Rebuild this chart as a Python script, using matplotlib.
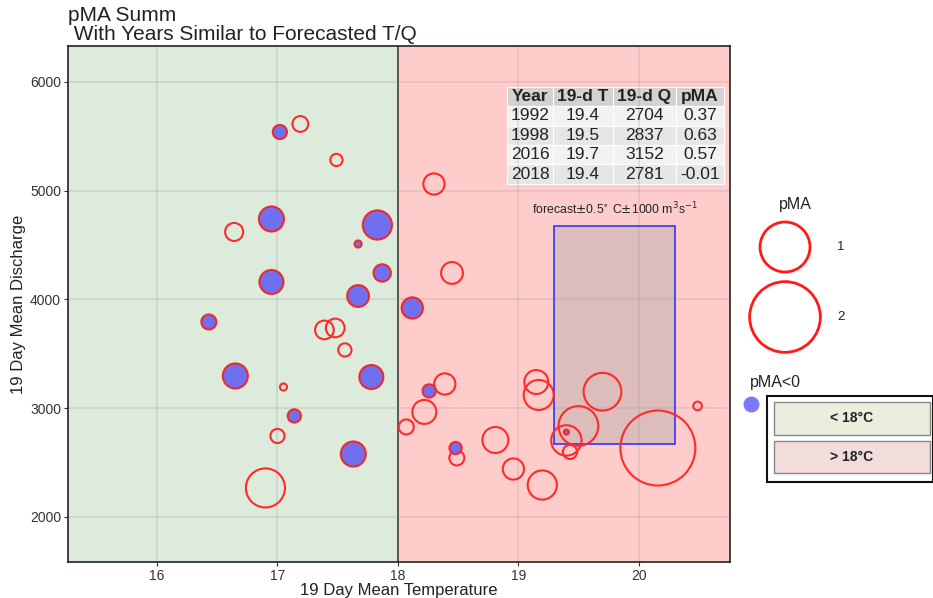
import numpy as np
import matplotlib.pyplot as plt
from matplotlib.patches import Rectangle

plt.rcParams['font.family'] = ['Liberation Sans', 'DejaVu Sans']

# 19-day mean temperature, 19-day mean discharge, pMA for each year
temp = [17.02, 17.19, 17.49, 16.95, 16.64, 17.83, 17.67, 17.87, 16.95, 17.67,
        16.43, 17.39, 17.48, 17.56, 16.65, 17.05, 17.78, 17.14, 17.00, 17.63,
        16.90,
        18.30, 18.45, 18.12, 18.39, 18.26, 18.22, 18.07, 18.48, 18.49, 18.81,
        18.96, 19.20, 19.15, 19.17, 19.7, 19.5, 19.4, 19.4, 19.43, 20.16, 20.49]
disch = [5540, 5614, 5283, 4740, 4621, 4685, 4510, 4244, 4161, 4032,
         3793, 3720, 3738, 3536, 3297, 3195, 3287, 2929, 2745, 2579,
         2267,
         5062, 4244, 3922, 3223, 3159, 2966, 2828, 2634, 2543, 2708,
         2441, 2294, 3241, 3122, 3152, 2837, 2704, 2781, 2598, 2634, 3021]
pma = [-0.08, 0.10, 0.06, -0.25, 0.13, -0.34, -0.02, -0.12, -0.23, -0.19,
       -0.09, 0.14, 0.14, 0.07, -0.25, 0.02, -0.23, -0.07, 0.08, -0.25,
       0.61,
       0.18, 0.19, -0.18, 0.18, -0.07, 0.23, 0.09, -0.06, 0.09, 0.27,
       0.18, 0.34, 0.23, 0.36, 0.57, 0.63, 0.37, -0.01, 0.08, 2.25, 0.03]

# years similar to the forecast
tab_cols = ['Year', '19-d T', '19-d Q', 'pMA']
tab_rows = [['1992', '19.4', '2704', '0.37'],
            ['1998', '19.5', '2837', '0.63'],
            ['2016', '19.7', '3152', '0.57'],
            ['2018', '19.4', '2781', '-0.01']]

forecast_t = 19.8
forecast_q = 3675
dt = 0.5
dq = 1000

legend_sizes = [1, 2]

temp = np.array(temp)
disch = np.array(disch)
pma = np.array(pma)
size_k = 1296  # points^2 per unit |pMA|

fig = plt.figure(figsize=(9.33, 5.98), dpi=100)
ax = fig.add_axes([0.0729, 0.0602, 0.7096, 0.8629])

x0, x1 = 15.26, 20.76
y0, y1 = 1586, 6331
ax.axvspan(x0, 18, color='#dcebdc', zorder=0)
ax.axvspan(18, x1, color='#ffcccc', zorder=0)
ax.axvline(18, color='#333333', lw=1.2, zorder=1)
ax.set_xlim(x0, x1)
ax.set_ylim(y0, y1)
ax.set_xticks([16, 17, 18, 19, 20])
ax.set_yticks([2000, 3000, 4000, 5000, 6000])
ax.grid(True, color='#888888', alpha=0.22, lw=1.2, zorder=1)
ax.tick_params(labelsize=10, colors='#333333', length=3, pad=2)
for s in ax.spines.values():
    s.set_color('#222222')
    s.set_linewidth(1.2)
ax.set_xlabel('19 Day Mean Temperature', fontsize=12, color='#222222', labelpad=0)
ax.set_ylabel('19 Day Mean Discharge', fontsize=12, color='#222222', labelpad=3)

# forecast box
ax.add_patch(Rectangle((forecast_t - dt, forecast_q - dq), 2 * dt, 2 * dq,
                       facecolor='#a0a0a0', alpha=0.35, edgecolor='none', zorder=2))
ax.add_patch(Rectangle((forecast_t - dt, forecast_q - dq), 2 * dt, 2 * dq,
                       facecolor='none', edgecolor='#3333ff', lw=1.2, zorder=2))
ax.text(forecast_t, forecast_q + dq + 80,
        r'forecast$\pm$0.5$^{\circ}$ C$\pm$1000 m$^{3}$s$^{-1}$',
        ha='center', va='bottom', fontsize=8.8, color='#222222')

neg = pma < 0
ax.scatter(temp[~neg], disch[~neg], s=size_k * np.abs(pma[~neg]),
           facecolor='none', edgecolor='#ff2a2a', lw=1.5, zorder=3)
ax.scatter(temp[neg], disch[neg], s=size_k * np.abs(pma[neg]),
           facecolor='#6f6ff0', edgecolor='#ee2a2a', lw=1.5, zorder=3)

# table
tb = ax.table(cellText=tab_rows, colLabels=tab_cols, cellLoc='center',
              bbox=[0.663, 0.733, 0.328, 0.188],
              colWidths=[46, 60, 63, 48])
tb.auto_set_font_size(False)
for (r, c), cell in tb.get_celld().items():
    cell.set_edgecolor('white')
    cell.set_linewidth(0.8)
    cell.get_text().set_fontsize(12.5)
    cell.get_text().set_color('#222222')
    if r == 0:
        cell.set_facecolor('#d2d2d2')
        cell.get_text().set_fontweight('bold')
    elif r % 2 == 1:
        cell.set_facecolor('#f2f2f2')
    else:
        cell.set_facecolor('#e6e6e6')
    cell.set_zorder(4)

fig.text(0.0729, 0.99, 'pMA Summ\n With Years Similar to Forecasted T/Q',
         ha='left', va='top', fontsize=15, color='#222222', linespacing=0.98)

# legend area in pixel coordinates
lax = fig.add_axes([0, 0, 1, 1], facecolor='none')
lax.set_xlim(0, 933)
lax.set_ylim(598, 0)
lax.axis('off')
lax.text(795, 205, 'pMA', ha='center', va='center', fontsize=11.5, color='#222222')
for v, yy in zip(legend_sizes, [247, 317]):
    lax.scatter([785], [yy], s=size_k * v, facecolor='none', edgecolor='#ff1a1a', lw=2)
    lax.text(841, yy, str(v), ha='center', va='center', fontsize=9.5, color='#222222')
lax.text(775, 382, 'pMA<0', ha='center', va='center', fontsize=11.5, color='#222222')
lax.scatter([751], [404], s=110, color='#7a7af5')
lax.add_patch(Rectangle((767, 396), 166, 86, facecolor='white', edgecolor='#111111', lw=1.5))
lax.add_patch(Rectangle((774, 402), 156, 33, facecolor='#eaeedd', edgecolor='#888888', lw=1))
lax.add_patch(Rectangle((774, 441), 156, 32, facecolor='#f2dcdc', edgecolor='#888888', lw=1))
lax.text(852, 418, '< 18°C', ha='center', va='center', fontsize=10, fontweight='bold', color='#222222')
lax.text(852, 457, '> 18°C', ha='center', va='center', fontsize=10, fontweight='bold', color='#222222')

fig.savefig('out.png', dpi=100)
